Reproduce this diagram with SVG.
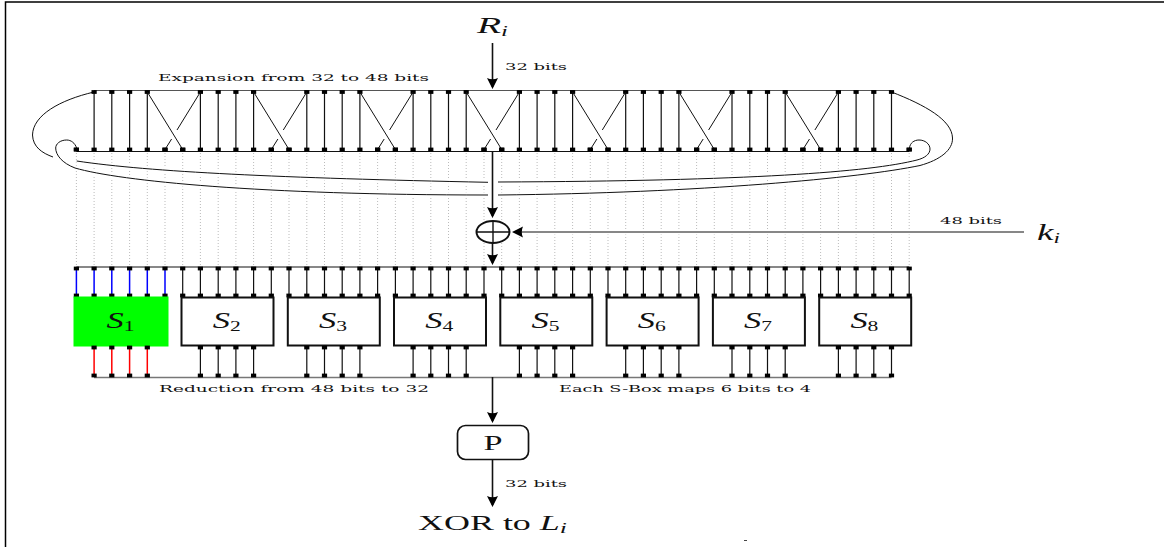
<svg xmlns="http://www.w3.org/2000/svg" width="1164" height="547" viewBox="0 0 1164 547">
<style>
text{font-family:"DejaVu Serif","Liberation Serif",serif;fill:#111}
.small{font-size:9.5px}
.math{font-family:"Liberation Serif",serif;font-style:italic;font-size:24px}
.sub{font-size:15px}
.rm{font-family:"Liberation Serif",serif;font-size:21px}
.wire{fill:none;stroke:#111;stroke-width:1.2;marker-start:url(#sq);marker-mid:url(#sq);marker-end:url(#sq)}
.line{fill:none;stroke:#111;stroke-width:1}
.rule{fill:none;stroke:#555;stroke-width:1}
.arrow{fill:none;stroke:#111;stroke-width:1.6;marker-end:url(#head)}
.dots{fill:none;stroke:#aaa;stroke-width:.8;stroke-dasharray:1 2}
.halo{fill:none;stroke:#fff;stroke-width:5}
.box{fill:#fff;stroke:#111;stroke-width:2}
</style>
<defs>
<marker id="sq" markerUnits="userSpaceOnUse" markerWidth="6" markerHeight="5" refX="3" refY="2.5" overflow="visible"><rect x=".4" y=".6" width="5.2" height="3.8" fill="#000"/></marker>
<marker id="head" markerUnits="userSpaceOnUse" markerWidth="14" markerHeight="14" refX="9" refY="7" orient="auto"><path d="M11 7 L0 1.5 Q2.5 7 0 12.5Z" fill="#000"/></marker>
<path id="c1" d="M94 92C60 100 33 115 32.5 135C33 147 42 153 53 157"/>
<path id="c2" d="M76.7 161C150 172 280 178 488 182.3"/>
<path id="c3" d="M76.6 148C75 143 71 140 66.7 140C60 140 55.7 144 55.7 148C55.7 155 62 163 75 168C120 181 260 195 488 195"/>
<path id="c4" d="M909.5 148C910 143 914 140 919 140C925 140 930 144 930 149C930 154 925 158 917 160C870 172 750 181 498 182"/>
<path id="c5" d="M891.5 92C925 105 952 120 952.5 138C953 150 940 160 920 165.5C860 178 700 193 498 195"/>
</defs>
<rect width="1164" height="547" fill="#fff"/>
<path d="M5.5 547V2H1164" fill="none" stroke="#000" stroke-width="1.5"/>
<rect x="744" y="540" width="3" height="1" fill="#444"/>

<g id="connectors">
<path class="dots" d="M76.4 153V266M94.1 153V266M111.8 153V266M129.6 153V266M147.3 153V266M165 153V266M182.7 153V266M200.4 153V266M218.2 153V266M235.9 153V266M253.6 153V266M271.3 153V266M289 153V266M306.8 153V266M324.5 153V266M342.2 153V266M359.9 153V266M377.6 153V266M395.4 153V266M413.1 153V266M430.8 153V266M448.5 153V266M466.2 153V266M484 153V266M501.7 153V266M519.4 153V266M537.1 153V266M554.8 153V266M572.6 153V266M590.3 153V266M608 153V266M625.7 153V266M643.4 153V266M661.2 153V266M678.9 153V266M696.6 153V266M714.3 153V266M732 153V266M749.8 153V266M767.5 153V266M785.2 153V266M802.9 153V266M820.6 153V266M838.4 153V266M856.1 153V266M873.8 153V266M891.5 153V266M909.2 153V266"/>
<use href="#c1" class="halo"/><use href="#c2" class="halo"/><use href="#c3" class="halo"/><use href="#c4" class="halo"/><use href="#c5" class="halo"/>
<path class="halo" d="M514 232H1024"/>
<use href="#c1" class="line"/><use href="#c2" class="line"/><use href="#c3" class="line"/><use href="#c4" class="line"/><use href="#c5" class="line"/>

<path class="rule" d="M94 90.5H891.5"/>
<path class="line" d="M76.4 151.5H909.2M76.4 267H909.2"/>
<path class="rule" style="stroke:#777;stroke-width:1.5" d="M94 377.5H891.5"/>

<path class="wire" d="M94.1 92V149.5M111.8 92V149.5M129.6 92V149.5M147.3 92V149.5M200.4 92V149.5M218.2 92V149.5M235.9 92V149.5M253.6 92V149.5M306.8 92V149.5M324.5 92V149.5M342.2 92V149.5M359.9 92V149.5M413.1 92V149.5M430.8 92V149.5M448.5 92V149.5M466.2 92V149.5M519.4 92V149.5M537.1 92V149.5M554.8 92V149.5M572.6 92V149.5M625.7 92V149.5M643.4 92V149.5M661.2 92V149.5M678.9 92V149.5M732 92V149.5M749.8 92V149.5M767.5 92V149.5M785.2 92V149.5M838.4 92V149.5M856.1 92V149.5M873.8 92V149.5M891.5 92V149.5"/>
<path class="line" d="M147.3 92L182.7 149.5M253.6 92L289 149.5M359.9 92L395.4 149.5M466.2 92L501.7 149.5M572.6 92L608 149.5M678.9 92L714.3 149.5M785.2 92L820.6 149.5"/>
<path class="line" d="M165 149.5L171.6 139M177 130L200.4 92M271.3 149.5L277.9 139M283.3 130L306.8 92M377.6 149.5L384.2 139M389.6 130L413.1 92M484 149.5L490.6 139M496 130L519.4 92M590.3 149.5L596.9 139M602.3 130L625.7 92M696.6 149.5L703.2 139M708.6 130L732 92M802.9 149.5L809.5 139M814.9 130L838.4 92"/>
<path class="wire" d="M76.4 149.5V149.6M165 149.5V149.6M182.7 149.5V149.6M271.3 149.5V149.6M289 149.5V149.6M377.6 149.5V149.6M395.4 149.5V149.6M484 149.5V149.6M501.7 149.5V149.6M590.3 149.5V149.6M608 149.5V149.6M696.6 149.5V149.6M714.3 149.5V149.6M802.9 149.5V149.6M820.6 149.5V149.6M909.2 149.5V149.6"/>

<path class="wire" style="stroke:#00f;stroke-width:1.5" d="M76.4 268.5V295.5M94.1 268.5V295.5M111.8 268.5V295.5M129.6 268.5V295.5M147.3 268.5V295.5M165 268.5V295.5"/>
<path class="wire" d="M182.7 268.5V295.5M200.4 268.5V295.5M218.2 268.5V295.5M235.9 268.5V295.5M253.6 268.5V295.5M271.3 268.5V295.5M289 268.5V295.5M306.8 268.5V295.5M324.5 268.5V295.5M342.2 268.5V295.5M359.9 268.5V295.5M377.6 268.5V295.5M395.4 268.5V295.5M413.1 268.5V295.5M430.8 268.5V295.5M448.5 268.5V295.5M466.2 268.5V295.5M484 268.5V295.5M501.7 268.5V295.5M519.4 268.5V295.5M537.1 268.5V295.5M554.8 268.5V295.5M572.6 268.5V295.5M590.3 268.5V295.5M608 268.5V295.5M625.7 268.5V295.5M643.4 268.5V295.5M661.2 268.5V295.5M678.9 268.5V295.5M696.6 268.5V295.5M714.3 268.5V295.5M732 268.5V295.5M749.8 268.5V295.5M767.5 268.5V295.5M785.2 268.5V295.5M802.9 268.5V295.5M820.6 268.5V295.5M838.4 268.5V295.5M856.1 268.5V295.5M873.8 268.5V295.5M891.5 268.5V295.5M909.2 268.5V295.5"/>

<path class="arrow" d="M492.5 43V87"/>
<path class="arrow" d="M492.5 151V216"/>
<path class="arrow" d="M492.5 243V263"/>
<path class="arrow" style="stroke-width:1.1" d="M1024 232H514"/>
<path class="arrow" d="M492.5 377V421"/>
<path class="arrow" d="M492.5 460V505"/>
</g>

<g id="S1"><rect x="73.5" y="296.5" width="95" height="50" fill="#0f0"/><text class="math" x="106.5" y="328" textLength="28" lengthAdjust="spacingAndGlyphs">S<tspan class="sub" dy="3" font-style="normal">1</tspan></text></g>
<g id="S2"><rect class="box" x="181.5" y="297.5" width="92" height="48"/><text class="math" x="212.7" y="328" textLength="28" lengthAdjust="spacingAndGlyphs">S<tspan class="sub" dy="3" font-style="normal">2</tspan></text></g>
<g id="S3"><rect class="box" x="287.8" y="297.5" width="92" height="48"/><text class="math" x="319" y="328" textLength="28" lengthAdjust="spacingAndGlyphs">S<tspan class="sub" dy="3" font-style="normal">3</tspan></text></g>
<g id="S4"><rect class="box" x="394" y="297.5" width="92" height="48"/><text class="math" x="425.2" y="328" textLength="28" lengthAdjust="spacingAndGlyphs">S<tspan class="sub" dy="3" font-style="normal">4</tspan></text></g>
<g id="S5"><rect class="box" x="500.3" y="297.5" width="92" height="48"/><text class="math" x="531.5" y="328" textLength="28" lengthAdjust="spacingAndGlyphs">S<tspan class="sub" dy="3" font-style="normal">5</tspan></text></g>
<g id="S6"><rect class="box" x="606.6" y="297.5" width="92" height="48"/><text class="math" x="637.8" y="328" textLength="28" lengthAdjust="spacingAndGlyphs">S<tspan class="sub" dy="3" font-style="normal">6</tspan></text></g>
<g id="S7"><rect class="box" x="712.9" y="297.5" width="92" height="48"/><text class="math" x="744.1" y="328" textLength="28" lengthAdjust="spacingAndGlyphs">S<tspan class="sub" dy="3" font-style="normal">7</tspan></text></g>
<g id="S8"><rect class="box" x="819.2" y="297.5" width="92" height="48"/><text class="math" x="850.4" y="328" textLength="28" lengthAdjust="spacingAndGlyphs">S<tspan class="sub" dy="3" font-style="normal">8</tspan></text></g>

<g id="outputs">
<path class="wire" style="stroke:#f00;stroke-width:1.5" d="M94.1 347.5V375.5M111.8 347.5V375.5M129.6 347.5V375.5M147.3 347.5V375.5"/>
<path class="wire" d="M200.4 347.5V375.5M218.2 347.5V375.5M235.9 347.5V375.5M253.6 347.5V375.5M306.8 347.5V375.5M324.5 347.5V375.5M342.2 347.5V375.5M359.9 347.5V375.5M413.1 347.5V375.5M430.8 347.5V375.5M448.5 347.5V375.5M466.2 347.5V375.5M519.4 347.5V375.5M537.1 347.5V375.5M554.8 347.5V375.5M572.6 347.5V375.5M625.7 347.5V375.5M643.4 347.5V375.5M661.2 347.5V375.5M678.9 347.5V375.5M732 347.5V375.5M749.8 347.5V375.5M767.5 347.5V375.5M785.2 347.5V375.5M838.4 347.5V375.5M856.1 347.5V375.5M873.8 347.5V375.5M891.5 347.5V375.5"/>
</g>

<g id="xor"><ellipse cx="493" cy="232" rx="16.5" ry="11" fill="#fff" stroke="#111" stroke-width="2"/><path d="M476.5 232H509.5M493 221V243" stroke="#111" stroke-width="1.4"/></g>
<g id="P"><rect x="457.5" y="425.5" width="71" height="34" rx="8" fill="#fff" stroke="#111" stroke-width="1.7"/><text class="rm" x="483.5" y="450" textLength="19" lengthAdjust="spacingAndGlyphs">P</text></g>
<g id="Ri"><text class="math" x="477" y="33" textLength="31" lengthAdjust="spacingAndGlyphs">R<tspan class="sub" dy="3">i</tspan></text></g>
<g id="ki"><text class="math" x="1037" y="240" textLength="23" lengthAdjust="spacingAndGlyphs">k<tspan class="sub" dy="3">i</tspan></text></g>
<g id="Li"><text class="rm" x="418" y="530" textLength="149" lengthAdjust="spacingAndGlyphs">XOR to <tspan class="math" style="font-size:21px">L</tspan><tspan class="math" style="font-size:15px" dy="3">i</tspan></text></g>
<g id="labels">
<text class="small" x="505" y="70" textLength="62" lengthAdjust="spacingAndGlyphs">32 bits</text>
<text class="small" x="158" y="81" textLength="271" lengthAdjust="spacingAndGlyphs">Expansion from 32 to 48 bits</text>
<text class="small" x="940" y="224" textLength="62" lengthAdjust="spacingAndGlyphs">48 bits</text>
<text class="small" x="159" y="392" textLength="270" lengthAdjust="spacingAndGlyphs">Reduction from 48 bits to 32</text>
<text class="small" x="559" y="392" textLength="252" lengthAdjust="spacingAndGlyphs">Each S-Box maps 6 bits to 4</text>
<text class="small" x="505" y="487" textLength="62" lengthAdjust="spacingAndGlyphs">32 bits</text>
</g>
</svg>
